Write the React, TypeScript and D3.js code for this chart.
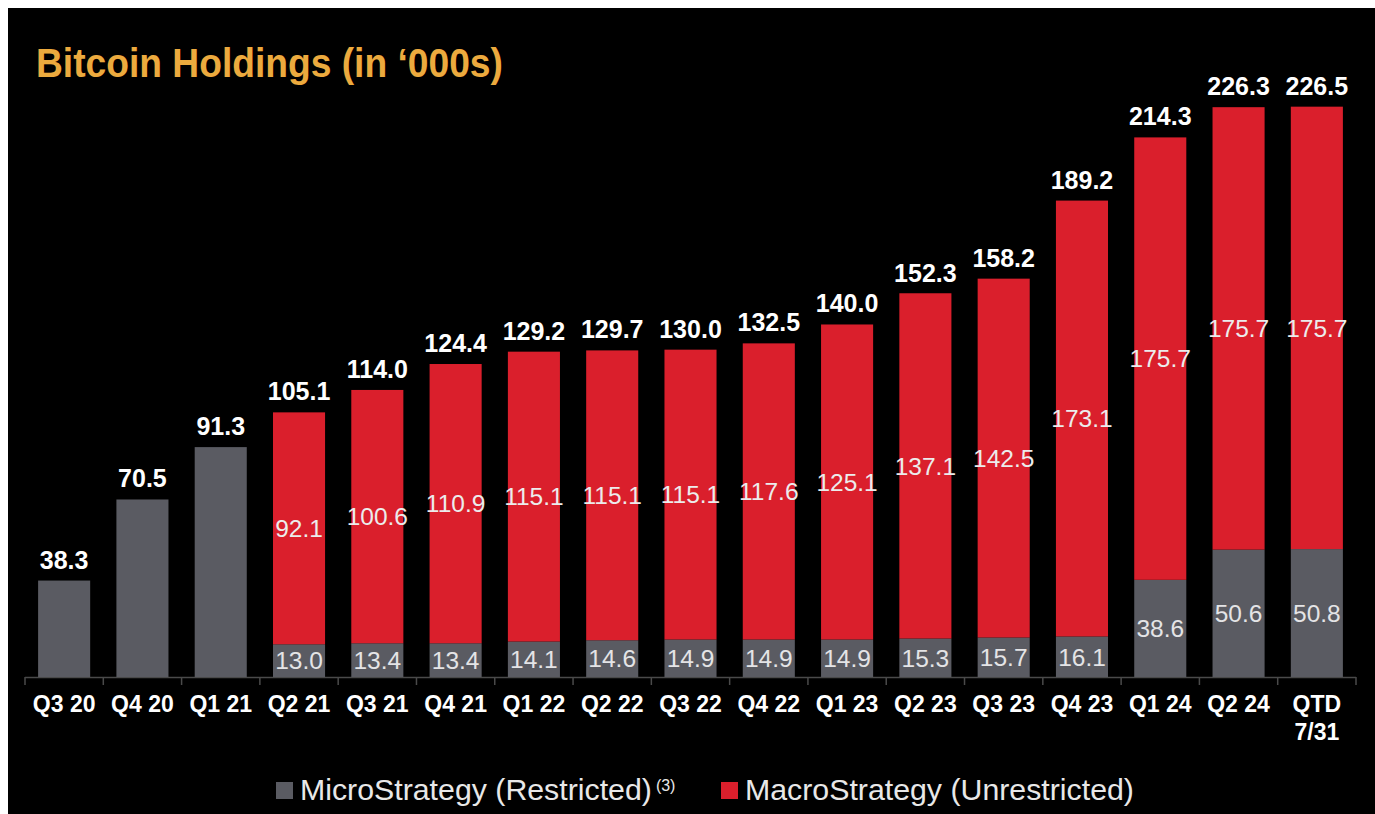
import React from "react";
import * as d3 from "d3";

const categories = [
  "Q3 20", "Q4 20", "Q1 21", "Q2 21", "Q3 21", "Q4 21", "Q1 22", "Q2 22", "Q3 22",
  "Q4 22", "Q1 23", "Q2 23", "Q3 23", "Q4 23", "Q1 24", "Q2 24", "QTD\n7/31",
];
const restricted = [38.3, 70.5, 91.3, 13.0, 13.4, 13.4, 14.1, 14.6, 14.9, 14.9, 14.9, 15.3, 15.7, 16.1, 38.6, 50.6, 50.8];
const unrestricted = [0, 0, 0, 92.1, 100.6, 110.9, 115.1, 115.1, 115.1, 117.6, 125.1, 137.1, 142.5, 173.1, 175.7, 175.7, 175.7];
const totals = [38.3, 70.5, 91.3, 105.1, 114.0, 124.4, 129.2, 129.7, 130.0, 132.5, 140.0, 152.3, 158.2, 189.2, 214.3, 226.3, 226.5];

const W = 1375;
const H = 814;
const FONT = "'Liberation Sans', Arial, Helvetica, sans-serif";
const GRAY = "#5a5b62";
const RED = "#da1f2c";

export default function App() {
  const baseY = 677;
  const x = d3
    .scaleBand<string>()
    .domain(categories)
    .range([25, 1356])
    .paddingInner(0.335)
    .paddingOuter(0.1675);
  const y = d3.scaleLinear().domain([0, 240]).range([baseY, baseY - 240 * 2.518]);
  const step = x.step();
  const bw = x.bandwidth();
  const tickXs = categories.map((c) => (x(c) as number) - (step - bw) / 2).concat([1356]);

  return (
    <svg
      width={W}
      height={H}
      style={{ position: "absolute", left: 0, top: 0, display: "block" }}
      fontFamily={FONT}
    >
      <rect x={0} y={0} width={W} height={H} fill="#ffffff" />
      <rect x={8} y={8} width={W - 8} height={H - 8} fill="#000000" />
      <g transform="translate(36,77) scale(0.93,1)">
        <text x={0} y={0} fill="#ecaa3e" fontSize={40} fontWeight="bold">
          Bitcoin Holdings (in ‘000s)
        </text>
      </g>

      {/* axis line and ticks */}
      <line x1={25} x2={1356} y1={baseY + 0.5} y2={baseY + 0.5} stroke="#4a4a4a" strokeWidth={1.5} />
      {tickXs.map((tx, i) => (
        <line key={"t" + i} x1={tx} x2={tx} y1={baseY} y2={baseY + 8} stroke="#4a4a4a" strokeWidth={1.5} />
      ))}

      {categories.map((c, i) => {
        const bx = x(c) as number;
        const cx = bx + bw / 2;
        const r = restricted[i];
        const u = unrestricted[i];
        const yr = y(r);
        const yt = y(r + u);
        const lines = c.split("\n");
        return (
          <g key={c}>
            <rect x={bx} y={yr} width={bw} height={baseY - yr} fill={GRAY} />
            {u > 0 && <rect x={bx} y={yt} width={bw} height={yr - yt} fill={RED} />}
            {u > 0 && (
              <text
                x={cx}
                y={(yr + baseY) / 2}
                dy="0.36em"
                textAnchor="middle"
                fill="#e4e4e6"
                fontSize={24.5}
              >
                {r.toFixed(1)}
              </text>
            )}
            {u > 0 && (
              <text
                x={cx}
                y={(yt + yr) / 2}
                dy="0.36em"
                textAnchor="middle"
                fill="#ececec"
                fontSize={24.5}
              >
                {u.toFixed(1)}
              </text>
            )}
            <text
              x={cx}
              y={y(totals[i]) - 12}
              textAnchor="middle"
              fill="#ffffff"
              fontSize={25}
              fontWeight="bold"
            >
              {totals[i].toFixed(1)}
            </text>
            {lines.map((ln, j) => (
              <text
                key={j}
                x={cx}
                y={712 + j * 28}
                textAnchor="middle"
                fill="#ffffff"
                fontSize={23}
                fontWeight="bold"
              >
                {ln}
              </text>
            ))}
          </g>
        );
      })}

      {/* legend */}
      <rect x={276} y={782} width={17} height={17} fill={GRAY} />
      <text x={300} y={800} fill="#e8e8e8" fontSize={30.3}>
        MicroStrategy (Restricted)
        <tspan dx={4} dy={-9} fontSize={16}>(3)</tspan>
      </text>
      <rect x={721} y={782} width={17} height={17} fill={RED} />
      <text x={745} y={800} fill="#e8e8e8" fontSize={30.3}>
        MacroStrategy (Unrestricted)
      </text>
    </svg>
  );
}
